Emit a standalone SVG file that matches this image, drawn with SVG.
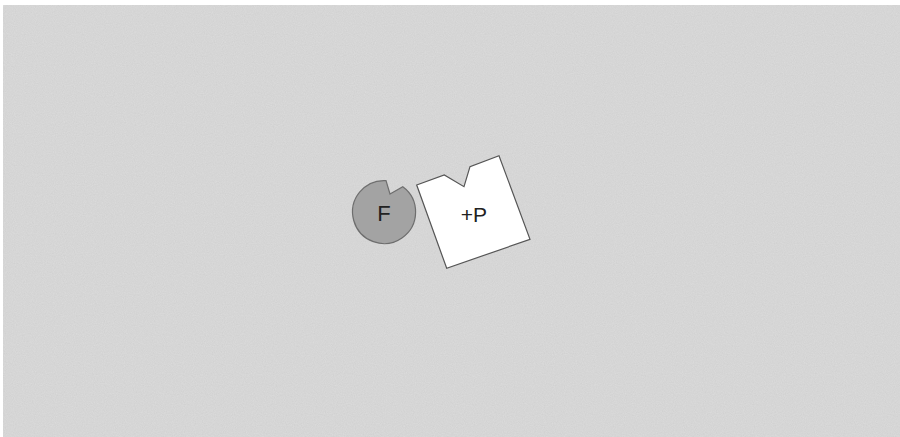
<svg xmlns="http://www.w3.org/2000/svg" width="900" height="437" viewBox="0 0 900 437">
  <defs>
    <filter id="grain" x="0" y="0" width="100%" height="100%">
      <feTurbulence type="fractalNoise" baseFrequency="0.9" numOctaves="2" seed="3" result="n"/>
      <feColorMatrix in="n" type="matrix" values="0 0 0 0 0.5  0 0 0 0 0.5  0 0 0 0 0.5  0 0 0 0.25 0" result="g"/>
      <feComposite in="g" in2="SourceGraphic" operator="in" result="gm"/>
      <feBlend in="SourceGraphic" in2="gm" mode="multiply"/>
    </filter>
    <style>
      .shape { stroke-width: 1.2; stroke-linejoin: miter; }
      .label { font-family: "Liberation Sans", Arial, sans-serif; fill: #222; text-anchor: middle; }
    </style>
  </defs>
  <rect x="0" y="0" width="900" height="437" fill="#ffffff"/>
  <rect x="3" y="5" width="897" height="432" fill="#dcdcdc" filter="url(#grain)"/>
  <g id="connectors"/>
  <g id="node-F">
    <path class="shape" d="M 390 194 L 402.8 186.7 A 31.5 31.5 0 1 1 386 180.6 Z" fill="#a3a3a3" stroke="#6e6e6e"/>
    <text class="label" x="384" y="221" font-size="22">F</text>
  </g>
  <g id="node-P">
    <polygon class="shape" points="416.7,185 444.3,175 464,186.7 470,166.7 499,155.7 530,239.3 446.7,268.3" fill="#ffffff" stroke="#555555"/>
    <text class="label" x="474" y="222" font-size="21">+P</text>
  </g>
</svg>
